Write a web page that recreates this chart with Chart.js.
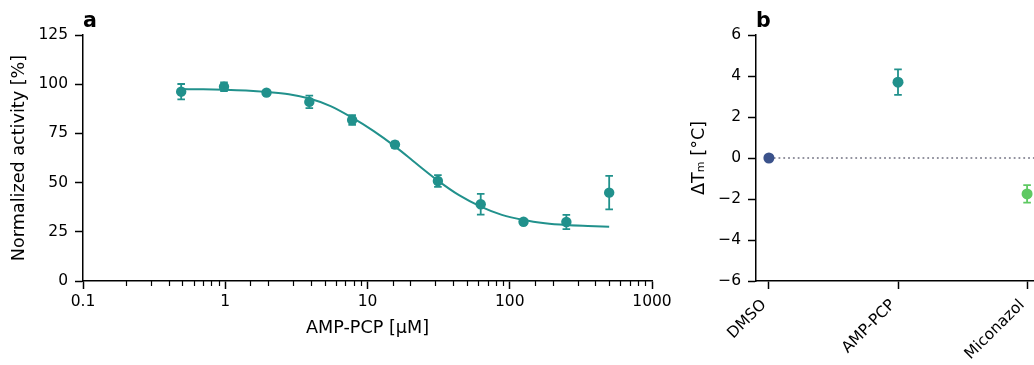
<!DOCTYPE html>
<html lang="en">
<head>
    <meta charset="UTF-8">
    <title>AMP-PCP dose response and thermal shift</title>
    <script src="https://cdn.jsdelivr.net/npm/chart.js"></script>
    <style>
        body {
            margin: 0;
            padding: 0;
            background: #fff;
            width: 1034px;
            height: 365px;
            overflow: hidden;
            position: relative;
            font-family: "DejaVu Sans", sans-serif;
        }

        #left-wrap {
            position: absolute;
            left: 0;
            top: 0;
            width: 680px;
            height: 365px;
        }

        #right-wrap {
            position: absolute;
            left: 680px;
            top: 0;
            width: 380px;
            height: 365px;
        }

        .panel-letter {
            position: absolute;
            font-weight: bold;
            font-size: 20.6px;
            line-height: 1;
            color: #000;
        }
    </style>
</head>
<body>
    <div id="left-wrap"><canvas id="doseChart" width="680" height="365"></canvas></div>
    <div id="right-wrap"><canvas id="shiftChart" width="380" height="365"></canvas></div>
    <div class="panel-letter" style="left: 83px; top: 10px;">a</div>
    <div class="panel-letter" style="left: 756px; top: 10px;">b</div>

    <script>
        // panel a: measured activity
        const concentrations = [0.49, 0.98, 1.95, 3.9, 7.8, 15.6, 31.25, 62.5, 125, 250, 500];
        const activity = [96.2, 98.7, 95.7, 91.0, 81.8, 69.3, 50.8, 39.0, 30.1, 30.0, 44.9];
        const activityErr = [3.9, 2.2, 1.0, 3.2, 2.5, 1.5, 3.0, 5.3, 1.0, 3.6, 8.5];

        // panel a: fitted curve
        const fitConc = [0.49, 0.7, 0.98, 1.4, 1.95, 2.8, 3.9, 5.5, 7.8, 11, 15.6, 22, 31.25, 44, 62.5, 88, 125, 177, 250, 354, 500];
        const fitActivity = [97.5, 97.4, 97.2, 96.8, 96.1, 94.9, 92.7, 88.9, 83.0, 76.3, 68.4, 59.7, 51.0, 43.6, 37.8, 33.6, 31.0, 29.4, 28.5, 28.0, 27.6];

        const logTickLabels = ['0.1', '1', '10', '100', '1000'];

        // panel b: thermal shift
        const compounds = ['DMSO', 'AMP-PCP', 'Miconazol'];
        const deltaTm = [0, 3.7, -1.75];
        const deltaTmErr = [0, 0.62, 0.43];
        const compoundColors = ['#3b528b', '#21918c', '#5ec962'];

        const teal = '#21918c';
        const tickFont = { family: 'DejaVu Sans', size: 15.5 };
        const titleFont = { family: 'DejaVu Sans', size: 17.6 };

        const isMajor = (v) => Math.abs(Math.log10(v) - Math.round(Math.log10(v))) < 1e-9;

        // draws vertical error bars with caps for datasets that have `errors`
        const errorBars = {
            id: 'errorBars',
            afterDatasetsDraw(chart) {
                const ctx = chart.ctx;
                chart.data.datasets.forEach((ds) => {
                    if (!ds.errors) return;
                    const xs = chart.scales.x;
                    const ys = chart.scales.y;
                    ds.data.forEach((p, j) => {
                        const e = ds.errors[j];
                        if (!e) return;
                        const x = xs.getPixelForValue(p.x);
                        const yTop = ys.getPixelForValue(p.y + e);
                        const yBot = ys.getPixelForValue(p.y - e);
                        ctx.save();
                        ctx.strokeStyle = Array.isArray(ds.backgroundColor) ? ds.backgroundColor[j] : ds.backgroundColor;
                        ctx.lineWidth = 1.8;
                        ctx.beginPath();
                        ctx.moveTo(x, yTop); ctx.lineTo(x, yBot);
                        ctx.moveTo(x - 3.8, yTop); ctx.lineTo(x + 3.8, yTop);
                        ctx.moveTo(x - 3.8, yBot); ctx.lineTo(x + 3.8, yBot);
                        ctx.stroke();
                        ctx.restore();
                    });
                });
            }
        };

        // short minor ticks on the log axis
        const minorTicks = {
            id: 'minorTicks',
            afterDraw(chart) {
                const xs = chart.scales.x;
                const ctx = chart.ctx;
                ctx.save();
                ctx.strokeStyle = '#000';
                ctx.lineWidth = 1.2;
                xs.ticks.forEach((t) => {
                    if (isMajor(t.value)) return;
                    const x = Math.round(xs.getPixelForValue(t.value)) + 0.5;
                    ctx.beginPath();
                    ctx.moveTo(x, xs.top);
                    ctx.lineTo(x, xs.top + 5);
                    ctx.stroke();
                });
                ctx.restore();
            }
        };

        new Chart(document.getElementById('doseChart'), {
            type: 'scatter',
            data: {
                datasets: [
                    {
                        label: 'measured',
                        data: concentrations.map((c, i) => ({ x: c, y: activity[i] })),
                        errors: activityErr,
                        backgroundColor: teal,
                        borderColor: teal,
                        pointRadius: 5.2,
                        pointBorderWidth: 0
                    },
                    {
                        type: 'line',
                        label: 'fit',
                        data: fitConc.map((c, i) => ({ x: c, y: fitActivity[i] })),
                        borderColor: teal,
                        borderWidth: 2,
                        pointRadius: 0,
                        cubicInterpolationMode: 'monotone',
                        fill: false
                    }
                ]
            },
            options: {
                responsive: false,
                animation: false,
                layout: { padding: { left: 0, top: 35, right: 28, bottom: 0 } },
                plugins: { legend: { display: false }, tooltip: { enabled: false } },
                scales: {
                    x: {
                        type: 'logarithmic',
                        min: 0.1,
                        max: 1000,
                        afterFit: (s) => { s.height = 84; },
                        border: { display: true, color: '#000', width: 1.5 },
                        grid: {
                            drawOnChartArea: false,
                            tickLength: 8,
                            tickWidth: 1.5,
                            tickColor: (c) => (c.tick && isMajor(c.tick.value) ? '#000' : 'rgba(0,0,0,0)')
                        },
                        ticks: {
                            autoSkip: false,
                            maxRotation: 0,
                            color: '#000',
                            font: tickFont,
                            padding: 4,
                            callback: (v) => {
                                if (!isMajor(v)) return '';
                                return logTickLabels[Math.round(Math.log10(v)) + 1];
                            }
                        },
                        title: { display: true, text: 'AMP-PCP [µM]', color: '#000', font: titleFont, padding: { top: 0, bottom: 26 } }
                    },
                    y: {
                        min: 0,
                        max: 125,
                        afterFit: (s) => { s.width = 83; },
                        border: { display: true, color: '#000', width: 1.5 },
                        grid: { drawOnChartArea: false, tickLength: 8, tickWidth: 1.5, tickColor: '#000' },
                        ticks: { stepSize: 25, color: '#000', font: tickFont, padding: 7 },
                        title: { display: true, text: 'Normalized activity [%]', color: '#000', font: titleFont, padding: { top: 9, bottom: 0 } }
                    }
                }
            },
            plugins: [errorBars, minorTicks]
        });

        new Chart(document.getElementById('shiftChart'), {
            type: 'scatter',
            data: {
                datasets: [
                    {
                        label: 'ΔTm',
                        data: compounds.map((c, i) => ({ x: i, y: deltaTm[i] })),
                        errors: deltaTmErr,
                        backgroundColor: compoundColors,
                        borderColor: compoundColors,
                        pointRadius: 5.5,
                        pointBorderWidth: 0
                    },
                    {
                        type: 'line',
                        label: 'zero',
                        data: [{ x: 0, y: 0 }, { x: 2.1, y: 0 }],
                        borderColor: '#707080',
                        borderWidth: 1.5,
                        borderDash: [1.8, 3],
                        pointRadius: 0,
                        fill: false
                    }
                ]
            },
            options: {
                responsive: false,
                animation: false,
                layout: { padding: { left: 0, top: 35, right: 20, bottom: 0 } },
                plugins: { legend: { display: false }, tooltip: { enabled: false } },
                scales: {
                    x: {
                        type: 'linear',
                        min: -0.1,
                        max: 2.1,
                        afterBuildTicks: (s) => { s.ticks = compounds.map((c, i) => ({ value: i })); },
                        afterFit: (s) => { s.height = 84; },
                        border: { display: true, color: '#000', width: 1.5 },
                        grid: { drawOnChartArea: false, tickLength: 8, tickWidth: 1.5, tickColor: '#000' },
                        ticks: {
                            autoSkip: false,
                            minRotation: 45,
                            maxRotation: 45,
                            color: '#000',
                            font: tickFont,
                            padding: 7,
                            labelOffset: -5,
                            callback: (v) => compounds[v]
                        }
                    },
                    y: {
                        min: -6,
                        max: 6,
                        afterFit: (s) => { s.width = 76; },
                        border: { display: true, color: '#000', width: 1.5 },
                        grid: { drawOnChartArea: false, tickLength: 8, tickWidth: 1.5, tickColor: '#000' },
                        ticks: {
                            stepSize: 2,
                            color: '#000',
                            font: tickFont,
                            padding: 7,
                            callback: (v) => (v < 0 ? '\u2212' + Math.abs(v) : String(v))
                        },
                        title: { display: true, text: 'ΔTₘ [°C]', color: '#000', font: titleFont, padding: { top: 9, bottom: 0 } }
                    }
                }
            },
            plugins: [errorBars]
        });
    </script>
</body>
</html>
